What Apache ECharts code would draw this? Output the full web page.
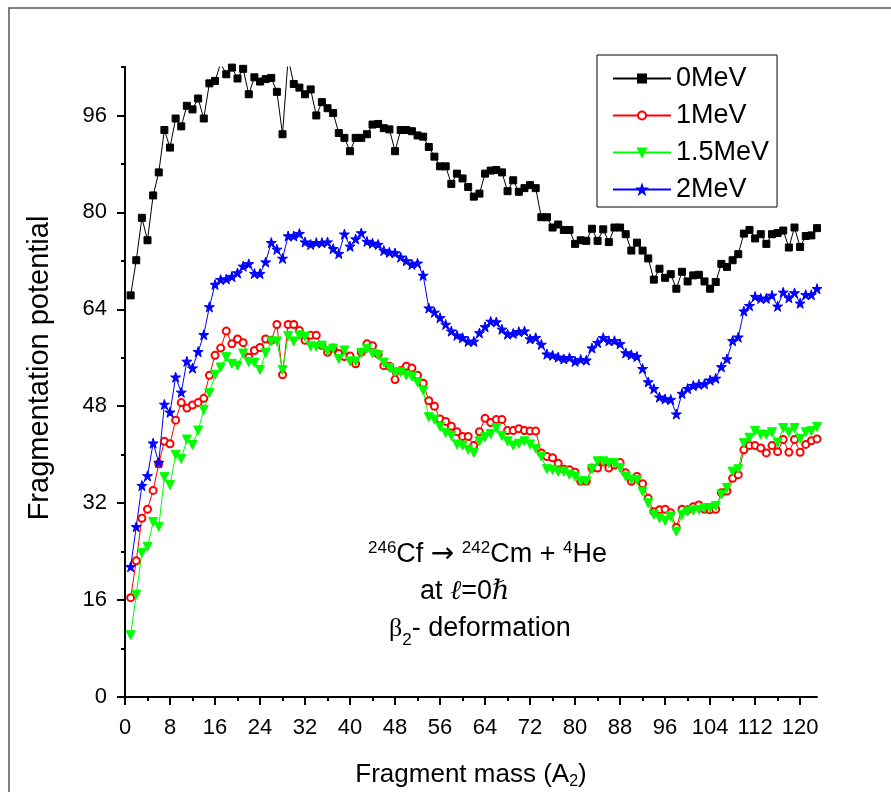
<!DOCTYPE html>
<html>
<head>
<meta charset="utf-8">
<script src="https://cdn.jsdelivr.net/npm/echarts@6/dist/echarts.min.js"></script>
<style>
  html, body { margin: 0; padding: 0; background: #fff; }
  #chart { width: 891px; height: 792px; }
</style>
</head>
<body>
<div id="chart"></div>
<script>
// Fragment mass numbers A2 = 1 .. 123
const fragMass = Array.from({ length: 123 }, (_, i) => i + 1);

// Fragmentation potential for each excitation temperature
const pot0MeV = [66.3, 72.1, 79.1, 75.4, 82.8, 86.6, 93.6, 90.7, 95.5, 94.2,
  97.6, 97.0, 98.8, 95.5, 101.3, 101.7, 104.6, 102.8, 103.9, 102.1,
  103.7, 99.5, 102.3, 101.6, 102.0, 102.2, 99.9, 92.9, 105.5, 101.2,
  100.6, 99.5, 100.3, 96.0, 98.2, 97.2, 96.4, 93.1, 92.3, 90.1,
  92.3, 92.3, 92.9, 94.5, 94.6, 93.9, 93.7, 90.1, 93.6, 93.6,
  93.4, 92.7, 92.5, 90.8, 89.2, 87.6, 87.6, 84.7, 86.4, 85.6,
  84.2, 82.6, 83.1, 86.4, 86.9, 87.0, 86.6, 83.5, 85.3, 83.4,
  84.0, 84.5, 84.0, 79.2, 79.2, 77.5, 78.0, 77.1, 77.1, 74.8,
  75.4, 75.3, 77.3, 75.3, 77.2, 75.1, 77.5, 77.5, 76.4, 73.7,
  75.0, 73.7, 72.4, 68.9, 70.7, 69.2, 69.8, 67.4, 70.2, 68.6,
  69.6, 69.7, 68.6, 67.4, 68.5, 71.5, 71.0, 72.1, 73.1, 76.5,
  77.1, 75.7, 76.4, 74.8, 76.4, 76.6, 77.0, 74.2, 77.5, 74.3,
  76.1, 76.2, 77.4];

const pot1MeV = [16.4, 22.5, 29.5, 31.0, 34.1, 38.5, 42.2, 41.8, 45.7, 48.6,
  47.7, 48.2, 48.6, 49.3, 53.1, 56.4, 57.6, 60.4, 58.3, 59.1,
  58.5, 56.1, 57.2, 57.7, 59.1, 58.9, 61.5, 53.2, 61.5, 61.5,
  60.5, 58.9, 59.7, 59.7, 58.0, 56.9, 57.6, 56.7, 56.2, 56.3,
  55.0, 56.9, 58.3, 58.0, 56.6, 54.7, 54.6, 52.4, 53.9, 54.6,
  54.3, 53.1, 51.8, 48.9, 48.0, 45.9, 45.5, 44.7, 43.8, 43.0,
  43.0, 41.5, 43.8, 46.0, 45.3, 45.8, 45.8, 44.0, 44.0, 44.3,
  44.0, 43.9, 43.9, 40.3, 39.7, 39.5, 38.6, 37.6, 37.5, 37.1,
  35.6, 35.6, 37.8, 37.8, 38.8, 37.8, 38.3, 38.7, 37.0, 35.6,
  36.4, 35.2, 32.8, 30.6, 30.9, 31.0, 30.4, 28.0, 31.0, 30.9,
  31.4, 31.7, 31.0, 30.9, 31.0, 33.7, 34.0, 36.1, 36.7, 40.8,
  41.5, 41.5, 41.1, 40.3, 41.5, 40.5, 42.5, 40.4, 42.5, 40.4,
  41.7, 42.3, 42.6];

const pot15MeV = [10.2, 16.9, 23.8, 24.8, 28.9, 28.1, 36.3, 35.0, 40.0, 39.3,
  42.5, 41.6, 44.0, 47.4, 50.2, 53.2, 54.4, 56.1, 55.0, 54.7,
  56.7, 55.3, 55.2, 54.0, 56.8, 58.7, 58.7, 54.0, 59.6, 58.7,
  59.7, 59.5, 57.9, 57.8, 58.0, 57.1, 57.5, 55.8, 57.2, 55.4,
  55.4, 56.8, 57.5, 56.7, 56.4, 55.2, 54.3, 53.6, 53.6, 53.1,
  52.9, 51.9, 50.6, 46.2, 45.8, 44.6, 43.6, 43.1, 41.7, 41.5,
  40.8, 40.3, 42.2, 42.9, 43.4, 44.4, 43.1, 42.2, 41.5, 41.8,
  42.2, 41.7, 41.0, 39.7, 37.6, 37.5, 37.2, 37.2, 36.7, 36.4,
  35.6, 35.6, 37.6, 38.9, 38.9, 38.6, 38.6, 37.8, 36.4, 35.9,
  35.8, 33.9, 32.0, 30.1, 29.5, 29.1, 29.8, 27.3, 30.1, 30.6,
  30.8, 30.9, 31.2, 31.2, 31.5, 33.4, 34.5, 37.2, 37.6, 41.9,
  42.8, 43.9, 43.3, 43.3, 43.7, 42.0, 44.4, 43.7, 44.4, 42.6,
  43.7, 43.9, 44.6];

const pot2MeV = [21.5, 28.1, 34.9, 36.5, 41.9, 38.7, 48.3, 47.0, 52.8, 50.3,
  55.4, 54.3, 57.0, 59.8, 64.4, 68.1, 68.9, 69.0, 69.4, 70.0,
  71.1, 71.5, 69.9, 69.9, 71.8, 75.0, 73.9, 72.4, 76.1, 76.1,
  76.5, 75.1, 74.7, 75.0, 75.0, 75.1, 74.0, 73.2, 76.4, 74.4,
  75.6, 76.6, 75.2, 74.9, 74.7, 73.7, 73.4, 73.3, 72.6, 72.0,
  71.4, 71.6, 69.6, 64.2, 63.5, 62.6, 61.5, 60.4, 59.7, 59.3,
  58.7, 58.7, 60.1, 61.1, 62.0, 61.9, 60.7, 59.9, 60.0, 60.3,
  60.4, 59.1, 59.3, 58.2, 56.6, 56.4, 56.1, 55.8, 56.0, 55.4,
  55.7, 55.6, 57.6, 58.5, 59.3, 58.8, 58.8, 58.3, 56.8, 56.5,
  56.2, 54.2, 52.0, 50.9, 49.5, 49.2, 49.1, 46.7, 50.1, 50.9,
  51.4, 51.6, 51.7, 52.3, 52.6, 54.5, 55.8, 58.8, 59.4, 63.7,
  64.6, 66.1, 65.8, 65.8, 66.3, 64.5, 66.8, 65.9, 66.7, 65.0,
  66.4, 66.4, 67.4];

// Axis ticks
const xLabelTicks = [0, 8, 16, 24, 32, 40, 48, 56, 64, 72, 80, 88, 96, 104, 112, 120];
const xMinorTicks = [4, 12, 20, 28, 36, 44, 52, 60, 68, 76, 84, 92, 100, 108, 116];
const yLabelTicks = [0, 16, 32, 48, 64, 80, 96];
const yMinorTicks = [8, 24, 40, 56, 72, 88, 104];

const seriesNames = ['0MeV', '1MeV', '1.5MeV', '2MeV'];

const FONT = '"Liberation Sans", Arial, Helvetica, sans-serif';
const STAR = 'path://M50,2 L61.8,37.6 L99,37.6 L69,59.6 L80.4,95 L50,73 L19.6,95 L31,59.6 L1,37.6 L38.2,37.6 Z';

const seriesDefs = [
  { name: seriesNames[0], values: pot0MeV, color: '#000000', symbol: 'rect', size: 7, rotate: 0 },
  { name: seriesNames[1], values: pot1MeV, color: '#ff0000', symbol: 'emptyCircle', size: 7, rotate: 0 },
  { name: seriesNames[2], values: pot15MeV, color: '#00ff00', symbol: 'triangle', size: 9, rotate: 180 },
  { name: seriesNames[3], values: pot2MeV, color: '#0000ff', symbol: STAR, size: 10, rotate: 0 }
];

const chart = echarts.init(document.getElementById('chart'), null, { renderer: 'canvas' });

const axisLineStyle = { color: '#000', width: 2 };

const option = {
  animation: false,
  backgroundColor: '#fff',
  grid: { left: 125, right: 74, top: 67, bottom: 95, containLabel: false, outerBoundsMode: 'none' },
  xAxis: [
    {
      type: 'value', min: 0, max: 123, position: 'bottom',
      axisLine: { show: true, onZero: false, lineStyle: axisLineStyle },
      axisTick: { show: true, inside: false, length: 4, customValues: xMinorTicks, lineStyle: { color: '#000', width: 2 } },
      axisLabel: { show: false },
      splitLine: { show: false }
    },
    {
      type: 'value', min: 0, max: 123, position: 'bottom',
      axisLine: { show: false, onZero: false },
      axisTick: { show: true, inside: false, length: 8, customValues: xLabelTicks, lineStyle: { color: '#000', width: 2 } },
      axisLabel: { show: true, customValues: xLabelTicks, margin: 20, color: '#000', fontSize: 22, fontFamily: FONT },
      splitLine: { show: false }
    }
  ],
  yAxis: [
    {
      type: 'value', min: 0, max: 104, position: 'left',
      axisLine: { show: true, onZero: false, lineStyle: axisLineStyle },
      axisTick: { show: true, inside: false, length: 4, customValues: yMinorTicks, lineStyle: { color: '#000', width: 2 } },
      axisLabel: { show: false },
      splitLine: { show: false }
    },
    {
      type: 'value', min: 0, max: 104, position: 'left',
      axisLine: { show: false, onZero: false },
      axisTick: { show: true, inside: false, length: 8, customValues: yLabelTicks, lineStyle: { color: '#000', width: 2 } },
      axisLabel: { show: true, customValues: yLabelTicks, margin: 18, color: '#000', fontSize: 22, fontFamily: FONT },
      splitLine: { show: false }
    }
  ],
  legend: {
    orient: 'vertical', left: 597, top: 55,
    padding: [10, 8, 4, 15], itemGap: 10, itemWidth: 58, itemHeight: 10,
    borderColor: '#000', borderWidth: 1, backgroundColor: '#fff',
    textStyle: { fontSize: 27, fontFamily: FONT, color: '#000', lineHeight: 26 },
    data: seriesNames
  },
  series: seriesDefs.map(s => ({
    type: 'line',
    name: s.name,
    xAxisIndex: 0,
    yAxisIndex: 0,
    data: fragMass.map((m, i) => [m, s.values[i]]),
    symbol: s.symbol,
    symbolSize: s.size,
    symbolRotate: s.rotate,
    showAllSymbol: true,
    clip: true,
    lineStyle: { color: s.color, width: 1 },
    itemStyle: { color: s.color, borderColor: s.color, borderWidth: 1 },
    emphasis: { disabled: true }
  })),
  graphic: [
    // outer frame
    {
      type: 'rect', silent: true,
      shape: { x: 9, y: 8, width: 1000, height: 1000 },
      style: { fill: 'none', stroke: '#555', lineWidth: 1.5 }
    },
    // y-axis title
    {
      type: 'text', x: 40, y: 368, rotation: Math.PI / 2, silent: true,
      style: {
        text: 'Fragmentation potential', fill: '#000',
        fontSize: 29, fontFamily: FONT,
        align: 'center', verticalAlign: 'middle',
        textAlign: 'center', textVerticalAlign: 'middle'
      }
    },
    // x-axis title with subscript
    {
      type: 'text', x: 471, y: 775, silent: true,
      style: {
        text: '{m|Fragment mass (A}{s|2}{m|)}',
        align: 'center', verticalAlign: 'middle',
        textAlign: 'center', textVerticalAlign: 'middle',
        rich: {
          m: { fontSize: 26, lineHeight: 30, fontFamily: FONT, fill: '#000', verticalAlign: 'middle' },
          s: { fontSize: 16, lineHeight: 10, fontFamily: FONT, fill: '#000', verticalAlign: 'bottom' }
        }
      }
    },
    // reaction annotation
    {
      type: 'text', x: 368, y: 555, silent: true,
      style: {
        text: '{p|246}{m|Cf }{a|→}{m| }{p|242}{m|Cm + }{p|4}{m|He}',
        align: 'left', verticalAlign: 'middle',
        textAlign: 'left', textVerticalAlign: 'middle',
        rich: {
          m: { fontSize: 27, lineHeight: 30, fontFamily: FONT, fill: '#000', verticalAlign: 'middle' },
          p: { fontSize: 17, lineHeight: 8, fontFamily: FONT, fill: '#000', verticalAlign: 'top' },
          a: { fontSize: 28, lineHeight: 30, fontFamily: '"DejaVu Sans", sans-serif', fill: '#000', verticalAlign: 'middle' }
        }
      }
    },
    {
      type: 'text', x: 420, y: 592, silent: true,
      style: {
        text: '{m|at }{i|ℓ}{m|=0}{i|ℏ}',
        align: 'left', verticalAlign: 'middle',
        textAlign: 'left', textVerticalAlign: 'middle',
        rich: {
          m: { fontSize: 27, lineHeight: 30, fontFamily: FONT, fill: '#000', verticalAlign: 'middle' },
          i: { fontSize: 27, lineHeight: 30, fontFamily: '"DejaVu Serif", serif', fontStyle: 'italic', fill: '#000', verticalAlign: 'middle' }
        }
      }
    },
    {
      type: 'text', x: 389, y: 629, silent: true,
      style: {
        text: '{g|β}{s|2}{m|- deformation}',
        align: 'left', verticalAlign: 'middle',
        textAlign: 'left', textVerticalAlign: 'middle',
        rich: {
          m: { fontSize: 27, lineHeight: 40, fontFamily: FONT, fill: '#000', verticalAlign: 'middle' },
          g: { fontSize: 26, lineHeight: 40, fontFamily: '"Liberation Serif", serif', fill: '#000', verticalAlign: 'middle' },
          s: { fontSize: 17, lineHeight: 8, fontFamily: FONT, fill: '#000', verticalAlign: 'bottom' }
        }
      }
    }
  ]
};

chart.setOption(option);
</script>
</body>
</html>
